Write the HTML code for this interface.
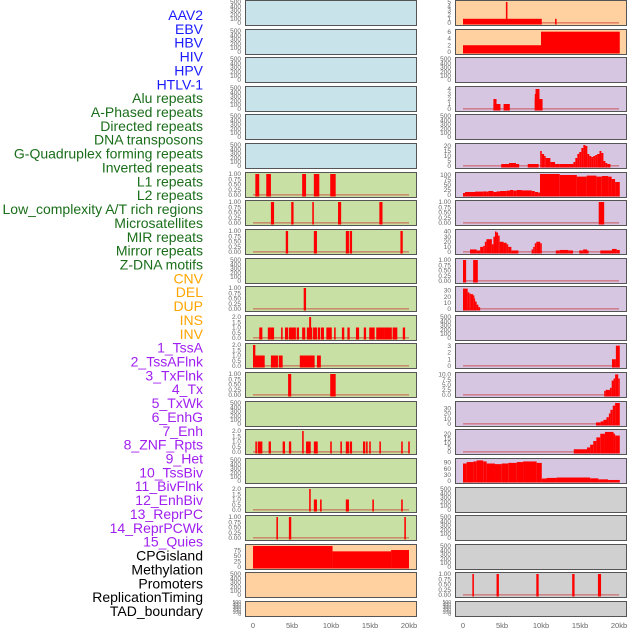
<!DOCTYPE html>
<html><head><meta charset="utf-8"><style>
html,body{margin:0;padding:0;background:#fff;}
svg{display:block;font-family:"Liberation Sans",sans-serif;}
</style></head><body>
<svg id="chart" width="630" height="630" viewBox="0 0 630 630" xmlns="http://www.w3.org/2000/svg"></svg>
<script>
// ---- data ----
const trackLabels = ["AAV2","EBV","HBV","HIV","HPV","HTLV-1","Alu repeats","A-Phased repeats","Directed repeats","DNA transposons","G-Quadruplex forming repeats","Inverted repeats","L1 repeats","L2 repeats","Low_complexity A/T rich regions","Microsatellites","MIR repeats","Mirror repeats","Z-DNA motifs","CNV","DEL","DUP","INS","INV","1_TssA","2_TssAFlnk","3_TxFlnk","4_Tx","5_TxWk","6_EnhG","7_Enh","8_ZNF_Rpts","9_Het","10_TssBiv","11_BivFlnk","12_EnhBiv","13_ReprPC","14_ReprPCWk","15_Quies","CPGisland","Methylation","Promoters","ReplicationTiming","TAD_boundary"];
const labelGroups = ["virus","virus","virus","virus","virus","virus","repeat","repeat","repeat","repeat","repeat","repeat","repeat","repeat","repeat","repeat","repeat","repeat","repeat","sv","sv","sv","sv","sv","hmm","hmm","hmm","hmm","hmm","hmm","hmm","hmm","hmm","hmm","hmm","hmm","hmm","hmm","hmm","other","other","other","other","other"];
const xTicks = [0,5,10,15,20];
const xTickLabels = ["0","5kb","10kb","15kb","20kb"];

const ticksEmpty = ["0","100","200","300","400","500"];
const ticksFrac = ["0.00","0.25","0.50","0.75","1.00"];
const ticksTwo = ["0.0","0.5","1.0","1.5","2.0"];

// segments: [startKb, endKb, value]
const leftL1 = [[0.3,0.8,1],[1.7,2.3,1],[6.3,6.8,1],[7.8,8.5,1],[9.9,10.6,1]];
const leftR7 = [[2.3,2.7,1],[4.9,5.2,1],[7.6,7.8,1],[10.9,11.3,1],[16.2,16.6,1]];
const leftR8 = [[4.2,4.5,1],[7.8,8.2,1],[11.9,12.3,1],[12.4,12.7,1],[18.9,19.2,1]];
const leftDEL = [[6.5,6.8,1]];
const leftR11 = [[0.8,1.2,1],[1.9,2.3,1],[2.3,2.7,1],[3.6,3.8,1],[4.1,4.5,1],[4.6,5.0,1],[5.0,5.5,1],[5.6,5.9,1],[6.3,6.7,1],[6.9,7.6,1],[7.2,7.45,2],[7.7,8.2,1],[8.3,8.6,1],[8.7,9.1,1],[9.4,10.1,1],[10.4,10.6,1],[11.4,11.7,1],[12.1,12.4,1],[13.2,13.6,1],[14.2,14.5,1],[14.9,15.6,1],[15.8,16.8,1],[16.8,17.8,1],[17.9,18.5,1],[19.2,19.5,1]];
const leftR12 = [[0,0.3,2],[0,1.5,1],[2.3,3.2,1],[3.3,3.8,1],[6.0,7.9,1],[8.2,8.7,1]];
const leftR13 = [[4.5,4.9,1],[9.9,10.6,1]];
const leftR15 = [[0.3,0.5,1],[0.6,1.2,1],[2.0,2.3,1],[3.8,4.1,1],[4.6,4.9,1],[6.3,6.5,2],[6.8,7.4,1],[7.8,8.3,1],[9.9,10.1,1],[11.2,11.4,1],[11.9,12.3,1],[12.4,12.7,1],[14.1,14.4,1],[14.5,14.7,1],[14.9,15.1,1],[16.2,16.4,1],[19.0,19.2,1],[19.9,20.1,1]];
const leftR17 = [[7.2,7.4,2],[7.8,8.2,1],[8.6,8.8,1],[11.9,12.3,1],[15.3,15.5,1],[19.0,19.2,1]];
const leftR18 = [[3.0,3.2,1],[4.6,4.9,1],[19.4,19.6,1]];
const leftCpG = [[0,10.2,100],[10.2,17.7,70],[17.7,20,76]];

const rightAAV2 = [[0,10.1,1],[5.5,5.7,5],[11.8,12.0,1]];
const rightEBV = [[0,10.0,2],[10.0,20.1,6]];
const rightAlu = [[3.9,4.8,1],[3.9,4.3,2],[5.2,6.0,1],[9.2,10.2,2],[9.2,9.8,3],[9.3,9.8,4]];
const rightGquad = [[4.9,7.2,2],[5.9,6.8,3],[8.3,9.7,2],[9.9,10.1,15],[10.1,10.4,12],[10.4,10.6,10],[10.6,11.2,8],[11.2,11.8,4],[11.8,12.4,2],[12.4,14.15,2],[14.15,14.4,4],[14.4,14.66,8],[14.66,14.9,12],[14.9,15.17,14],[15.17,15.43,18],[15.43,15.7,21],[15.7,15.94,20],[15.94,16.2,12],[16.2,16.45,10],[16.45,16.7,9],[16.7,16.96,10],[16.96,17.2,11],[17.2,17.5,12],[17.5,17.74,15],[17.74,18.0,13],[18.0,18.25,5],[18.25,18.5,3],[18.5,18.9,2]];
const rightL1 = [[0,0.26,10],[0.26,1.54,15],[1.54,2.6,17],[2.6,3.0,18],[3.0,3.25,17],[3.25,3.9,20],[3.9,4.3,15],[4.3,4.74,18],[4.74,5.6,20],[5.6,6.03,22],[6.03,6.45,25],[6.45,6.88,22],[6.88,7.5,25],[7.5,8.8,23],[8.8,9.2,20],[9.2,9.65,15],[9.65,9.87,12],[9.87,12.4,105],[12.4,14.6,100],[14.6,15.85,92],[15.85,17.1,97],[17.1,17.8,92],[17.8,18.6,95],[18.6,19.05,92],[19.05,19.5,80],[19.5,20.1,65]];
const rightLowComplex = [[17.4,18.1,1]];
const rightMIR = [[0.9,1.75,5],[1.75,2.2,3],[2.2,2.6,10],[2.6,2.8,12],[2.8,3.0,20],[3.0,3.7,25],[3.7,3.9,15],[3.9,4.1,30],[4.1,4.3,40],[4.3,4.5,38],[4.5,4.7,32],[4.7,5.2,20],[5.2,5.6,18],[5.6,5.8,15],[5.8,6.2,10],[6.2,7.1,3],[8.8,9.0,5],[9.0,9.2,10],[9.2,9.4,17],[9.4,9.9,20],[9.9,10.1,17],[11.9,12.4,3],[12.4,13.5,4],[13.5,14.1,3],[14.9,15.4,3],[15.4,15.9,5],[15.9,16.1,3],[17.6,19.1,3],[19.1,19.7,6],[19.7,20.1,4]];
const rightZDNA = [[0,0.4,1],[1.3,1.9,1]];
const rightDEL = [[0,0.6,33],[0.6,0.8,27],[0.8,1.0,25],[1.0,1.3,24],[1.3,1.4,22],[1.4,1.54,17],[1.54,1.75,12],[1.75,1.97,7],[1.97,2.2,3]];
const rightR12 = [[19.1,19.6,1],[19.6,20.1,3]];
const rightR13 = [[18.1,18.3,2],[18.3,18.85,2.5],[18.85,19.06,3.5],[19.06,19.3,7],[19.3,19.5,8],[19.5,19.9,10],[19.9,20.1,8]];
const rightR14 = [[17.05,17.65,3],[17.65,18.0,5],[18.0,18.4,8],[18.4,18.7,13],[18.7,18.9,20],[18.9,19.2,27],[19.2,19.5,35],[19.5,20.1,40]];
const rightR15 = [[14.2,15.9,3],[15.9,16.3,5],[16.3,16.7,8],[16.7,17.1,12],[17.1,17.6,16],[17.6,18.2,20],[18.2,19.3,22],[19.3,19.5,20],[19.5,20.1,18]];
const rightHet = [[0,0.47,85],[0.47,1.33,92],[1.33,1.75,95],[1.75,2.6,100],[2.6,3.03,95],[3.03,4.1,85],[4.1,4.96,82],[4.96,5.8,85],[5.8,6.9,88],[6.9,7.7,92],[7.7,9.44,95],[9.44,10.1,88],[10.1,10.7,12],[10.7,12.0,15],[12.0,16.3,17],[16.3,17.35,13],[17.35,18.6,8],[18.6,20.1,5]];
const rightPromoters = [[1.2,1.4,1],[4.3,4.6,1],[9.4,9.7,1],[14.0,14.3,1],[17.3,17.7,1]];

// panels: row, column, background, tick labels, domain max, segments
const panels = [];
function P(row,col,bg,ticks,max,seg,name){panels.push({row,col,bg,ticks,max,seg,name});}
const BLUE="#c9e3eb",GREEN="#c8e0a3",PEACH="#ffd0a0",LAV="#d6c6e2",GRAY="#d0d0d0";
for(let r=0;r<22;r++){
  let bgL = r<6?BLUE:(r<19?GREEN:PEACH);
  let bgR = r<2?PEACH:(r<17?LAV:GRAY);
  const L={6:[ticksFrac,1,leftL1],7:[ticksFrac,1,leftR7],8:[ticksFrac,1,leftR8],10:[ticksFrac,1,leftDEL],11:[ticksTwo,2,leftR11],12:[ticksTwo,2,leftR12],13:[ticksFrac,1,leftR13],15:[ticksTwo,2,leftR15],17:[ticksTwo,2,leftR17],18:[ticksFrac,1,leftR18],19:[["0","25","50","75"],94,leftCpG]};
  const R={0:[["0","1","2","3","4","5"],5,rightAAV2],1:[["0","2","4","6"],6.2,rightEBV],3:[["0","1","2","3","4"],4.2,rightAlu],5:[["0","5","10","15","20"],21,rightGquad],6:[["0","25","50","75","100"],105,rightL1],7:[ticksFrac,1,rightLowComplex],8:[["0","10","20","30","40"],41,rightMIR],9:[ticksFrac,1,rightZDNA],10:[["0","10","20","30"],34,rightDEL],12:[["0","1","2","3"],3.1,rightR12],13:[["0.0","2.5","5.0","7.5","10.0"],10.2,rightR13],14:[["0","10","20","30"],40,rightR14],15:[["0","5","10","15","20"],23,rightR15],16:[["0","30","60","90"],102,rightHet],20:[ticksFrac,1,rightPromoters]};
  const l=L[r]||[ticksEmpty,500,null], rr=R[r]||[ticksEmpty,500,null];
  P(r,0,bgL,l[0],l[1],l[2],'left-track-'+r);
  P(r,1,bgR,rr[0],rr[1],rr[2],'right-track-'+r);
}

// ---- drawing ----
const svg=document.getElementById('chart');
const NS="http://www.w3.org/2000/svg";
function el(tag,attrs,parent){const e=document.createElementNS(NS,tag);for(const k in attrs)e.setAttribute(k,attrs[k]);(parent||svg).appendChild(e);return e;}
const colX=[245,455], panelW=171, x0Off=8, kbPx=7.8;
function xScale(col,kb){return colX[col]+x0Off+kb*kbPx;}
function rowTop(r){return Math.round(r*28.62);}
const labelColors={virus:"#1a1aff",repeat:"#1a6e1a",sv:"#ffa500",hmm:"#a020f0",other:"#000"};

trackLabels.forEach((t,i)=>{
  const tx=el('text',{x:203,y:(20+i*13.86).toFixed(1),'text-anchor':'end','font-size':'14',fill:labelColors[labelGroups[i]]});
  
  
  tx.textContent=t;
});

panels.forEach(p=>{
  const top=rowTop(p.row), h=p.row===21?15:25;
  const g=el('g',{});
  
  
  el('rect',{x:colX[p.col]+1,y:top+1,width:panelW,height:h,fill:'#aaa'},g);
  const bgRect=el('rect',{x:colX[p.col]+0.5,y:top+0.5,width:panelW,height:h,fill:p.bg,stroke:'#555','stroke-width':1},g);
  
  
  const y0=top+h-2, y1=top+(h>20?2:1);
  const yS=v=>y0-Math.min(v,p.max)/p.max*(y0-y1);
  const fs=h>20?6.5:5;
  p.ticks.forEach(t=>{
    const tt=el('text',{x:colX[p.col]-4,y:(yS(parseFloat(t))+2.2).toFixed(1),'text-anchor':'end','font-size':fs,fill:'#666'},g);
    
    
    tt.textContent=t;
  });
  if(p.seg){
    el('rect',{x:xScale(p.col,0),y:y0-1,width:20*kbPx,height:1.6,fill:'rgba(200,40,40,0.45)'},g);
    p.seg.forEach(s=>{
      const xa=xScale(p.col,s[0]), xb=xScale(p.col,s[1]);
      const b=el('rect',{x:xa.toFixed(2),y:yS(s[2]).toFixed(2),width:Math.max(1.2,xb-xa).toFixed(2),height:(y0+1.5-yS(s[2])).toFixed(2),fill:'#ff0000'},g);
      
      
    });
  }
});

[0,1].forEach(c=>{
  xTicks.forEach((k,i)=>{
    const t=el('text',{x:xScale(c,k),y:628,'text-anchor':'middle','font-size':'7.5',fill:'#666'});
    
    
    t.textContent=xTickLabels[i];
  });
});
</script>
</body></html>
